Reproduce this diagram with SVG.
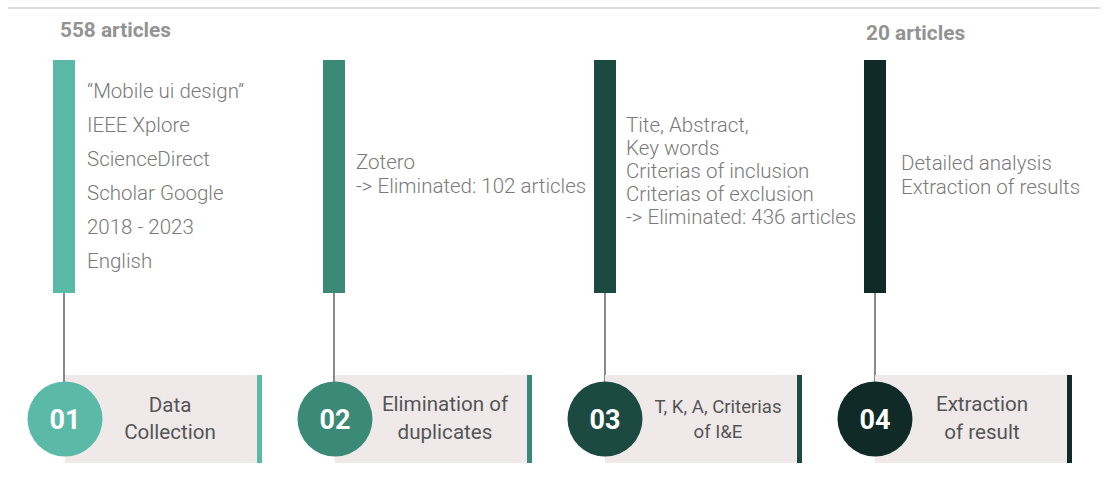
<svg xmlns="http://www.w3.org/2000/svg" width="1104" height="483" viewBox="0 0 1104 483">
<style>
.hdr{font-family:Roboto,"Liberation Sans",sans-serif;font-weight:700;font-size:20.8px;fill:#939393}
.desc{font-family:"Roboto Light",Roboto,"Liberation Sans",sans-serif;font-weight:300;font-size:20.5px;fill:#7a7a7a}
.lbl{font-family:Roboto,"Liberation Sans",sans-serif;font-size:20.6px;fill:#555;text-anchor:middle}
.num{font-family:Roboto,"Liberation Sans",sans-serif;font-weight:700;font-size:27px;fill:#fff;text-anchor:middle}
.box{fill:#efe9ea}
.conn{stroke:#8a8a8a;stroke-width:2;fill:none}
</style>
<rect width="1104" height="483" fill="#fff"/>
<line x1="8" y1="8" x2="1100" y2="8" stroke="#dcdcdc" stroke-width="2"/>
<text class="hdr" x="60" y="37">558 articles</text>
<text class="hdr" x="866" y="40">20 articles</text>
<g id="connectors">
<line class="conn" x1="64" y1="293" x2="64" y2="386"/>
<line class="conn" x1="334" y1="293" x2="334" y2="386"/>
<line class="conn" x1="605" y1="293" x2="605" y2="386"/>
<line class="conn" x1="875" y1="293" x2="875" y2="386"/>
</g>
<g id="step1">
<rect x="53" y="60" width="22" height="233" fill="#5bbaa7"/>
<text class="desc" x="87" y="98">“Mobile ui design”</text>
<text class="desc" x="87" y="132">IEEE Xplore</text>
<text class="desc" x="87" y="166">ScienceDirect</text>
<text class="desc" x="87" y="200">Scholar Google</text>
<text class="desc" x="87" y="234">2018 - 2023</text>
<text class="desc" x="87" y="268">English</text>
<rect class="box" x="65" y="375" width="192" height="88"/>
<rect x="257" y="375" width="5" height="88" fill="#5bbaa7"/>
<circle cx="65" cy="419" r="37.5" fill="#5bbaa7"/>
<text class="num" x="65" y="429">01</text>
<text class="lbl" x="170" y="412">Data</text>
<text class="lbl" x="170" y="439">Collection</text>
</g>
<g id="step2">
<rect x="323" y="60" width="22" height="233" fill="#3b8a78"/>
<text class="desc" x="356" y="169">Zotero</text>
<text class="desc" x="356" y="193">-&gt; Eliminated: 102 articles</text>
<rect class="box" x="335" y="375" width="192" height="88"/>
<rect x="527" y="375" width="5" height="88" fill="#3b8a78"/>
<circle cx="335" cy="419" r="37.5" fill="#3b8a78"/>
<text class="num" x="335" y="429">02</text>
<text class="lbl" x="445" y="411">Elimination of</text>
<text class="lbl" x="445" y="439">duplicates</text>
</g>
<g id="step3">
<rect x="594" y="60" width="22" height="233" fill="#1d4a40"/>
<text class="desc" x="626" y="132">Tite, Abstract,</text>
<text class="desc" x="626" y="155">Key words</text>
<text class="desc" x="626" y="178">Criterias of inclusion</text>
<text class="desc" x="626" y="201">Criterias of exclusion</text>
<text class="desc" x="626" y="224">-&gt; Eliminated: 436 articles</text>
<rect class="box" x="605" y="375" width="192" height="88"/>
<rect x="797" y="375" width="5" height="88" fill="#1d4a40"/>
<circle cx="605" cy="419" r="37.5" fill="#1d4a40"/>
<text class="num" x="605" y="429">03</text>
<text class="lbl" x="718" y="413" style="font-size:18.6px">T, K, A, Criterias</text>
<text class="lbl" x="718" y="438" style="font-size:18.6px">of I&amp;E</text>
</g>
<g id="step4">
<rect x="864" y="60" width="22" height="233" fill="#0f2a27"/>
<text class="desc" x="901" y="170">Detailed analysis</text>
<text class="desc" x="901" y="194">Extraction of results</text>
<rect class="box" x="875" y="375" width="192" height="88"/>
<rect x="1067" y="375" width="5" height="88" fill="#0f2a27"/>
<circle cx="875" cy="419" r="37.5" fill="#0f2a27"/>
<text class="num" x="875" y="429">04</text>
<text class="lbl" x="982" y="411">Extraction</text>
<text class="lbl" x="982" y="439">of result</text>
</g>
</svg>
